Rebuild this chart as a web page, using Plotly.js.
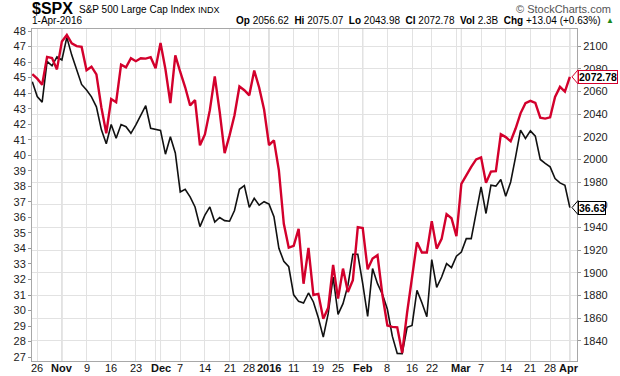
<!DOCTYPE html>
<html><head><meta charset="utf-8">
<script src="https://cdn.plot.ly/plotly-3.0.1.min.js"></script>
<style>html,body{margin:0;padding:0;background:#fff}#chart{width:620px;height:376px}</style>
</head><body><div id="chart"></div>
<script>
const dates = [
'2015-10-23','2015-10-26','2015-10-27','2015-10-28','2015-10-29','2015-10-30',
'2015-11-02','2015-11-03','2015-11-04','2015-11-05','2015-11-06','2015-11-09','2015-11-10','2015-11-11','2015-11-12','2015-11-13','2015-11-16','2015-11-17','2015-11-18','2015-11-19','2015-11-20','2015-11-23','2015-11-24','2015-11-25','2015-11-27','2015-11-30',
'2015-12-01','2015-12-02','2015-12-03','2015-12-04','2015-12-07','2015-12-08','2015-12-09','2015-12-10','2015-12-11','2015-12-14','2015-12-15','2015-12-16','2015-12-17','2015-12-18','2015-12-21','2015-12-22','2015-12-23','2015-12-24','2015-12-28','2015-12-29','2015-12-30','2015-12-31',
'2016-01-04','2016-01-05','2016-01-06','2016-01-07','2016-01-08','2016-01-11','2016-01-12','2016-01-13','2016-01-14','2016-01-15','2016-01-19','2016-01-20','2016-01-21','2016-01-22','2016-01-25','2016-01-26','2016-01-27','2016-01-28','2016-01-29',
'2016-02-01','2016-02-02','2016-02-03','2016-02-04','2016-02-05','2016-02-08','2016-02-09','2016-02-10','2016-02-11','2016-02-12','2016-02-16','2016-02-17','2016-02-18','2016-02-19','2016-02-22','2016-02-23','2016-02-24','2016-02-25','2016-02-26','2016-02-29',
'2016-03-01','2016-03-02','2016-03-03','2016-03-04','2016-03-07','2016-03-08','2016-03-09','2016-03-10','2016-03-11','2016-03-14','2016-03-15','2016-03-16','2016-03-17','2016-03-18','2016-03-21','2016-03-22','2016-03-23','2016-03-24','2016-03-28','2016-03-29','2016-03-30','2016-03-31',
'2016-04-01'];

const spx = [
2075.15,2071.18,2065.89,2090.35,2089.41,2079.36,
2104.05,2109.79,2102.31,2099.93,2099.20,2078.58,2081.72,2075.00,2045.97,2023.04,2053.19,2050.44,2083.58,2081.24,2089.17,2086.59,2089.14,2088.87,2090.11,2080.41,
2102.63,2079.51,2049.62,2091.69,2077.07,2063.59,2047.62,2052.23,2012.37,2021.94,2043.41,2073.07,2041.89,2005.55,2021.15,2038.97,2064.29,2060.99,2056.50,2078.36,2063.36,2043.94,
2012.66,2016.71,1990.26,1943.09,1922.03,1923.67,1938.68,1890.28,1921.84,1880.33,1881.33,1859.33,1868.99,1906.90,1877.08,1903.63,1882.95,1893.36,1940.24,
1939.38,1903.03,1912.53,1915.45,1880.05,1853.44,1852.21,1851.86,1829.08,1864.78,1895.58,1926.82,1917.83,1917.78,1945.50,1921.27,1929.80,1951.70,1948.05,1932.23,
1978.35,1986.45,1993.40,1999.99,2001.76,1979.26,1989.26,1989.57,2022.19,2019.64,2015.93,2027.22,2040.59,2049.58,2051.60,2049.80,2036.71,2035.94,2037.05,2055.01,2063.95,2059.74,
2072.78];

const stock = [
44.74,43.78,43.42,46.05,45.76,46.33,
46.14,47.59,46.45,45.49,44.56,44.20,43.76,43.12,41.65,40.74,41.98,41.09,41.98,41.84,41.41,41.95,42.57,43.19,41.74,41.68,
41.60,40.07,41.19,40.15,37.64,37.81,37.32,36.67,35.40,36.14,36.67,35.70,35.99,35.79,35.75,36.44,37.81,38.04,36.65,37.23,36.78,37.01,
36.85,36.04,34.01,33.17,32.82,31.01,30.59,30.48,31.13,30.55,29.53,28.29,29.80,32.16,29.75,30.44,31.62,33.62,33.62,
31.73,29.62,32.70,31.73,31.04,30.08,28.35,27.24,27.22,28.92,29.04,31.30,30.50,29.60,33.28,31.49,32.16,33.02,32.76,33.50,
33.77,34.63,34.63,36.25,37.96,36.25,38.07,38.01,38.44,37.36,38.28,39.90,41.62,41.08,41.57,41.23,39.73,39.47,39.25,38.50,38.22,38.07,
36.63];

const tickDates = ['2015-10-26','2015-11-02','2015-11-09','2015-11-16','2015-11-23','2015-11-30','2015-12-01','2015-12-07','2015-12-14','2015-12-21','2015-12-28','2016-01-04','2016-01-11','2016-01-19','2016-01-25','2016-02-01','2016-02-08','2016-02-16','2016-02-22','2016-02-29','2016-03-01','2016-03-07','2016-03-14','2016-03-21','2016-03-28','2016-04-01'];
const tickLabels = ['26','Nov','9','16','23','','Dec','7','14','21','28','2016','11','19','25','Feb','8','16','22','','Mar','7','14','21','28','Apr'];
const monthDates = ['2015-11-02','2015-12-01','2016-01-04','2016-02-01','2016-03-01','2016-04-01'];

const leftTicks = [27,28,29,30,31,32,33,34,35,36,37,38,39,40,41,42,43,44,45,46,47,48];
const rightTicks = [1840,1860,1880,1900,1920,1940,1960,1980,2000,2020,2040,2060,2080,2100];

const RED = '#d3002c';
const FONT = '"Liberation Sans", Arial, sans-serif';

// plot area in pixels: x 32..577, y 29..361
const L = 32, R = 577, T = 29, B = 361;
const xp = px => (px - L) / (R - L);
const yp = py => (B - py) / (B - T);

const traces = [
  {x: dates, y: stock, type: 'scatter', mode: 'lines', yaxis: 'y',
   line: {color: '#111', width: 1.6}, hoverinfo: 'skip'},
  {x: dates, y: spx, type: 'scatter', mode: 'lines', yaxis: 'y2',
   line: {color: RED, width: 2.4}, hoverinfo: 'skip'}
];

const lastSpx = spx[spx.length - 1];
const lastStock = stock[stock.length - 1];

const shapes = monthDates.map(d => ({
  type: 'line', xref: 'x', yref: 'paper', x0: d, x1: d, y0: 0, y1: 1,
  line: {color: '#bcbcbc', width: 1}, layer: 'below'
}));

const y2span = (2115 - 1822.1) / (B - T);
const y1span = (48.13 - 26.75) / (B - T);
shapes.push({type: 'path', xref: 'paper', yref: 'y2',
  path: `M ${xp(572)},${lastSpx} L ${xp(578)},${lastSpx + 7*y2span} L ${xp(578)},${lastSpx - 7*y2span} Z`,
  fillcolor: '#fff', line: {color: RED, width: 1}});
shapes.push({type: 'path', xref: 'paper', yref: 'y',
  path: `M ${xp(572)},${lastStock} L ${xp(578)},${lastStock + 7*y1span} L ${xp(578)},${lastStock - 7*y1span} Z`,
  fillcolor: '#fff', line: {color: '#000', width: 1}});

const annotations = [
  {text: '<b>$SPX</b>', xref: 'paper', yref: 'paper', x: xp(30), y: yp(8), xanchor: 'left', yanchor: 'middle', showarrow: false, font: {family: FONT, size: 16, color: '#000'}},
  {text: 'S&P 500 Large Cap Index', xref: 'paper', yref: 'paper', x: xp(77), y: yp(10), xanchor: 'left', yanchor: 'middle', showarrow: false, font: {family: FONT, size: 10, color: '#000'}},
  {text: 'INDX', xref: 'paper', yref: 'paper', x: xp(196), y: yp(10), xanchor: 'left', yanchor: 'middle', showarrow: false, font: {family: FONT, size: 9, color: '#000'}},
  {text: '© StockCharts.com', xref: 'paper', yref: 'paper', x: xp(613), y: yp(9), xanchor: 'right', yanchor: 'middle', showarrow: false, font: {family: FONT, size: 11, color: '#555'}},
  {text: '1-Apr-2016', xref: 'paper', yref: 'paper', x: xp(30), y: yp(21), xanchor: 'left', yanchor: 'middle', showarrow: false, font: {family: FONT, size: 10, color: '#000'}},
  {text: '<b>Op</b> 2056.62  <b>Hi</b> 2075.07  <b>Lo</b> 2043.98  <b>Cl</b> 2072.78  <b>Vol</b> 2.3B  <b>Chg</b> +13.04 (+0.63%)', xref: 'paper', yref: 'paper', x: xp(603), y: yp(21), xanchor: 'right', yanchor: 'middle', showarrow: false, font: {family: FONT, size: 10, color: '#000'}},
  {text: '▲', xref: 'paper', yref: 'paper', x: xp(604), y: yp(20), xanchor: 'left', yanchor: 'middle', showarrow: false, font: {family: FONT, size: 8, color: '#1a8a1a'}},
  {text: '<b>' + lastSpx.toFixed(2) + '</b>', xref: 'paper', yref: 'y2', x: xp(578), y: lastSpx, xanchor: 'left', yanchor: 'middle', showarrow: false,
   bordercolor: RED, borderwidth: 1, borderpad: 0, bgcolor: '#fff', font: {family: FONT, size: 10.5, color: '#000'}},
  {text: '<b>' + lastStock.toFixed(2) + '</b>', xref: 'paper', yref: 'y', x: xp(578), y: lastStock, xanchor: 'left', yanchor: 'middle', showarrow: false,
   bordercolor: '#000', borderwidth: 1, borderpad: 0, bgcolor: '#fff', font: {family: FONT, size: 10.5, color: '#000'}}
];

// x-axis labels (months bold)
tickDates.forEach((d, i) => {
  const t = tickLabels[i];
  if (!t) return;
  const isMonth = monthDates.includes(d);
  annotations.push({
    text: isMonth ? '<b>' + t + '</b>' : t,
    xref: 'x', yref: 'paper', x: d, y: yp(368),
    xanchor: 'center', yanchor: 'middle', showarrow: false,
    xshift: t === 'Apr' ? -1 : 0,
    font: {family: FONT, size: 11, color: '#111'}
  });
});

const layout = {
  width: 620, height: 376,
  margin: {l: L, r: 620 - R, t: T, b: 376 - B, pad: 0},
  paper_bgcolor: '#fff', plot_bgcolor: '#fff',
  showlegend: false,
  font: {family: FONT, size: 11, color: '#222'},
  xaxis: {
    type: 'category', range: [-0.06, 110.45],
    tickmode: 'array', tickvals: tickDates, showticklabels: false,
    showgrid: true, gridcolor: '#e2e2e2', gridwidth: 1,
    ticks: '', showline: true, linecolor: '#a8a8a8', mirror: true,
    zeroline: false, automargin: false
  },
  yaxis: {
    range: [26.75, 48.13], tickmode: 'array', tickvals: leftTicks,
    showgrid: false, ticks: 'outside', ticklen: 3, tickcolor: '#999',
    showline: true, linecolor: '#a8a8a8', zeroline: false,
    tickfont: {family: FONT, size: 11, color: '#222'}
  },
  yaxis2: {
    range: [1822.1, 2115], overlaying: 'y', side: 'right',
    tickmode: 'array', tickvals: rightTicks,
    showgrid: true, gridcolor: '#e2e2e2', ticks: 'outside', ticklen: 3, tickcolor: '#999',
    showline: true, linecolor: '#a8a8a8', zeroline: false,
    tickfont: {family: FONT, size: 11, color: '#222'}
  },
  shapes: shapes,
  annotations: annotations
};

Plotly.newPlot('chart', traces, layout, {staticPlot: true, displayModeBar: false});
</script>
</body></html>
